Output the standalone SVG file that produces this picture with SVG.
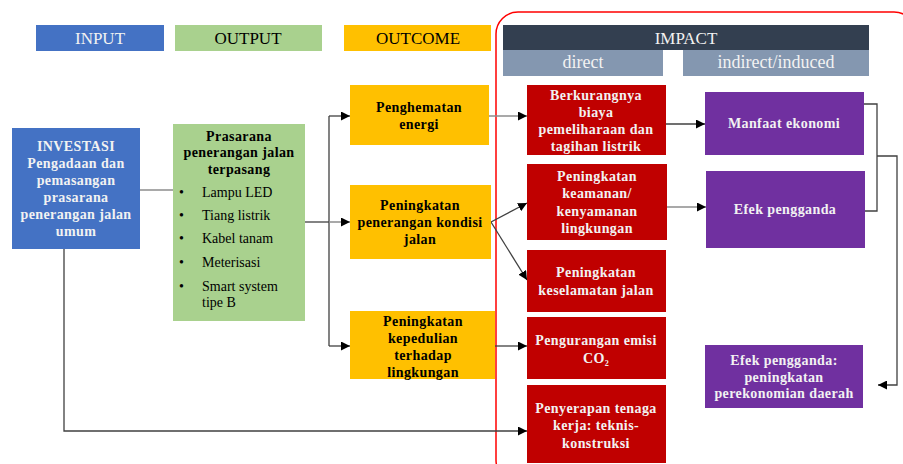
<svg xmlns="http://www.w3.org/2000/svg" width="903" height="464" viewBox="0 0 903 464">
<style>
text{font-family:"Liberation Serif","Times New Roman",serif;text-anchor:middle}
.h{font-size:17px}
.h2{font-size:18px}
.b{font-size:14px;font-weight:bold;letter-spacing:0.4px}
.r{font-size:14px;text-anchor:start}
.w{fill:#F2F2F2}
.k{fill:#000}
.blue{fill:#4472C4}.green{fill:#A9D18E}.or{fill:#FFC000}.red{fill:#C00000}.pur{fill:#7030A0}
.c{fill:none;stroke:#404040;stroke-width:1.3}
.g{fill:none;stroke:#8C8C8C;stroke-width:1.5}
</style>
<defs>
<marker id="a" viewBox="0 0 10 10" refX="10" refY="5" markerWidth="9" markerHeight="9" markerUnits="userSpaceOnUse" orient="auto"><path d="M0,0L10,5L0,10z" fill="#000"/></marker>
</defs>
<rect x="496" y="12" width="420" height="470" rx="22" fill="none" stroke="#FF0000" stroke-width="1.5"/>
<g id="hdr-input"><rect x="36" y="25" width="128" height="26" class="blue"/><text x="100" y="44" class="h w">INPUT</text></g>
<g id="hdr-output"><rect x="175" y="25" width="147" height="26" class="green"/><text x="248" y="44" class="h k">OUTPUT</text></g>
<g id="hdr-outcome"><rect x="344" y="25" width="147" height="26" fill="#FFC000"/><text x="418" y="44" class="h k">OUTCOME</text></g>
<g id="hdr-impact"><rect x="503" y="25" width="366" height="25" fill="#333F50"/><text x="686" y="44" class="h w">IMPACT</text></g>
<g id="hdr-direct"><rect x="503" y="50" width="160" height="26" fill="#8497B0"/><text x="583" y="68" class="h2 w">direct</text></g>
<g id="hdr-indirect"><rect x="683" y="50" width="186" height="26" fill="#8497B0"/><text x="776" y="68" class="h2 w">indirect/induced</text></g>

<g id="connectors">
<path class="g" d="M140,190H173"/>
<path class="c" d="M305,222H329"/>
<path class="c" d="M329,116V346"/>
<path class="c" d="M329,116H350" marker-end="url(#a)"/>
<path class="g" d="M329,222H350" marker-end="url(#a)"/>
<path class="c" d="M329,346H350" marker-end="url(#a)"/>
<path class="g" d="M489,116H527" marker-end="url(#a)"/>
<path class="c" d="M491,222L527,203" marker-end="url(#a)"/>
<path class="c" d="M491,222L527,280" marker-end="url(#a)"/>
<path class="c" d="M495,346H527" marker-end="url(#a)"/>
<path class="c" d="M666,124H705" marker-end="url(#a)"/>
<path class="g" d="M667,207H706" marker-end="url(#a)"/>
<path class="c" d="M858,104H877V211H858"/>
<path class="c" d="M877,156H897V385H878" marker-end="url(#a)"/>
<path class="c" d="M64,249V431H527" marker-end="url(#a)"/>
</g>

<g id="investasi"><rect x="12" y="128" width="128" height="121" class="blue"/>
<text class="b w"><tspan x="76" y="151">INVESTASI</tspan><tspan x="76" y="168">Pengadaan dan</tspan><tspan x="76" y="185">pemasangan</tspan><tspan x="76" y="202">prasarana</tspan><tspan x="76" y="219">penerangan jalan</tspan><tspan x="76" y="236">umum</tspan></text></g>

<g id="prasarana"><rect x="173" y="124" width="132" height="197" class="green"/>
<text class="b k"><tspan x="239" y="141">Prasarana</tspan><tspan x="239" y="157">penerangan jalan</tspan><tspan x="239" y="174">terpasang</tspan></text>
<text class="r k"><tspan x="179" y="197">•</tspan><tspan x="179" y="220">•</tspan><tspan x="179" y="243">•</tspan><tspan x="179" y="267">•</tspan><tspan x="179" y="291">•</tspan></text>
<text class="r k"><tspan x="202" y="197">Lampu LED</tspan><tspan x="202" y="220">Tiang listrik</tspan><tspan x="202" y="243">Kabel tanam</tspan><tspan x="202" y="267">Meterisasi</tspan><tspan x="202" y="291">Smart system</tspan><tspan x="202" y="307">tipe B</tspan></text></g>

<g id="penghematan"><rect x="350" y="85" width="139" height="60" class="or"/>
<text class="b k"><tspan x="419" y="112">Penghematan</tspan><tspan x="419" y="129">energi</tspan></text></g>
<g id="penerangan"><rect x="350" y="185" width="141" height="74" class="or"/>
<text class="b k"><tspan x="420" y="210">Peningkatan</tspan><tspan x="420" y="227">penerangan kondisi</tspan><tspan x="420" y="244">jalan</tspan></text></g>
<g id="kepedulian"><rect x="350" y="311" width="145" height="68" class="or"/>
<text class="b k"><tspan x="423" y="326">Peningkatan</tspan><tspan x="423" y="343">kepedulian</tspan><tspan x="423" y="360">terhadap</tspan><tspan x="423" y="377">lingkungan</tspan></text></g>

<g id="berkurangnya"><rect x="527" y="85" width="139" height="70" class="red"/>
<text class="b w"><tspan x="596" y="100">Berkurangnya</tspan><tspan x="596" y="117">biaya</tspan><tspan x="596" y="134">pemeliharaan dan</tspan><tspan x="596" y="151">tagihan listrik</tspan></text></g>
<g id="keamanan"><rect x="527" y="164" width="140" height="76" class="red"/>
<text class="b w"><tspan x="597" y="181">Peningkatan</tspan><tspan x="597" y="198">keamanan/</tspan><tspan x="597" y="216">kenyamanan</tspan><tspan x="597" y="233">lingkungan</tspan></text></g>
<g id="keselamatan"><rect x="527" y="250" width="139" height="62" class="red"/>
<text class="b w"><tspan x="596" y="277">Peningkatan</tspan><tspan x="596" y="295">keselamatan jalan</tspan></text></g>
<g id="emisi"><rect x="527" y="317" width="139" height="62" class="red"/>
<text class="b w"><tspan x="596" y="345">Pengurangan emisi</tspan><tspan x="596" y="363">CO<tspan font-size="8" dy="3">2</tspan></tspan></text></g>
<g id="penyerapan"><rect x="527" y="385" width="139" height="78" class="red"/>
<text class="b w"><tspan x="596" y="413">Penyerapan tenaga</tspan><tspan x="596" y="430">kerja: teknis-</tspan><tspan x="596" y="448">konstruksi</tspan></text></g>

<g id="manfaat"><rect x="705" y="92" width="159" height="63" class="pur"/>
<text class="b w" x="784" y="128">Manfaat ekonomi</text></g>
<g id="efek"><rect x="706" y="171" width="159" height="77" class="pur"/>
<text class="b w" x="785" y="214">Efek pengganda</text></g>
<g id="efek-daerah"><rect x="705" y="345" width="158" height="63" class="pur"/>
<text class="b w"><tspan x="784" y="365">Efek pengganda:</tspan><tspan x="784" y="382">peningkatan</tspan><tspan x="784" y="398">perekonomian daerah</tspan></text></g>
</svg>
